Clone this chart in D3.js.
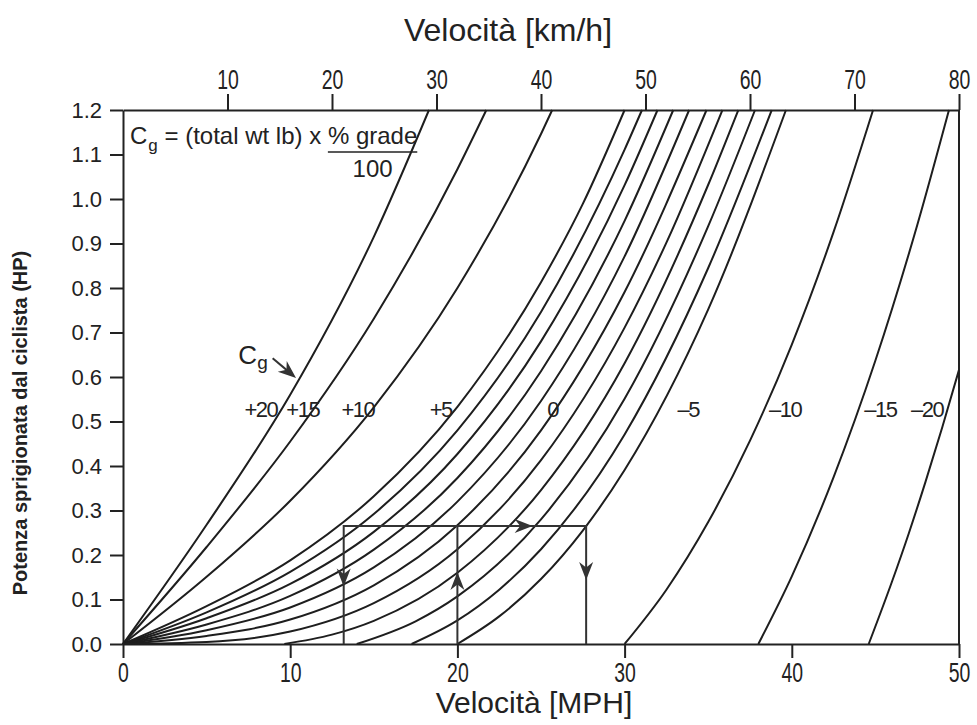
<!DOCTYPE html>
<html lang="it">
<head>
<meta charset="UTF-8">
<script src="https://d3js.org/d3.v7.min.js"></script>
<style>
  body { margin: 0; background: #fff; }
  svg { display: block; }
  text { fill: #222; font-family: "Liberation Sans", Arial, sans-serif; }
  .axis path, .axis line { stroke: #222; stroke-width: 2; }
  .curve { fill: none; stroke: #1e1e1e; stroke-width: 2; }
  .guide { fill: none; stroke: #333; stroke-width: 2; }
</style>
</head>
<body>
<svg id="chart" width="977" height="725"></svg>
<script>
// curve names (Cg, lb)
const cgNames = ["+20", "+15", "+10", "+5", "+4", "+3", "+2", "+1", "0",
                 "-1", "-2", "-3", "-4", "-5", "-10", "-15", "-20"];

// points [velocità MPH, potenza HP], one list per curve
const curves = [
  [[0, 0], [5, 0.268], [10, 0.560], [15, 0.915], [18.3, 1.2]],
  [[0, 0], [5, 0.218], [10, 0.455], [15, 0.731], [20, 1.067], [21.73, 1.2]],
  [[0, 0], [5, 0.151], [10, 0.322], [15, 0.532], [20, 0.800], [25, 1.146], [25.67, 1.2]],
  [[0, 0], [5, 0.085], [10, 0.188], [15, 0.332], [20, 0.533], [25, 0.813], [27.5, 0.989], [30.0, 1.2]],
  [[0, 0], [5, 0.071], [10, 0.162], [15, 0.292], [20, 0.480], [25, 0.746], [30, 1.111], [31.04, 1.2]],
  [[0, 0], [5, 0.058], [10, 0.135], [15, 0.252], [20, 0.427], [25, 0.680], [30, 1.031], [31.97, 1.2]],
  [[0, 0], [5, 0.044], [10, 0.108], [15, 0.212], [20, 0.373], [25, 0.613], [30, 0.951], [32.91, 1.2]],
  [[0, 0], [5, 0.031], [10, 0.082], [15, 0.172], [20, 0.320], [25, 0.546], [30, 0.871], [33.86, 1.2]],
  [[0, 0], [5, 0.018], [10, 0.055], [15, 0.132], [20, 0.267], [25, 0.480], [30, 0.791], [34.9, 1.2]],
  [[0, 0], [5, 0.0045], [10, 0.028], [15, 0.092], [20, 0.213], [25, 0.413], [30, 0.711], [32.5, 0.902], [35.85, 1.2]],
  [[9.65, 0], [12.5, 0.021], [15, 0.052], [20, 0.160], [25, 0.346], [30, 0.631], [35, 1.032], [36.8, 1.2]],
  [[13.98, 0], [17.5, 0.051], [20, 0.107], [25, 0.280], [30, 0.551], [35, 0.939], [37.8, 1.2]],
  [[17.26, 0], [20, 0.053], [22.5, 0.122], [25, 0.213], [30, 0.471], [35, 0.845], [38.8, 1.2]],
  [[20.0, 0], [22.5, 0.062], [25, 0.146], [27.5, 0.255], [30, 0.391], [35, 0.752], [39.65, 1.2]],
  [[30.0, 0], [32.5, 0.122], [35, 0.274], [37.5, 0.457], [40, 0.673], [42.5, 0.926], [44.86, 1.2]],
  [[38.0, 0], [40, 0.152], [42.5, 0.375], [45, 0.637], [47.5, 0.941], [49.4, 1.2]],
  [[44.6, 0], [46, 0.141], [47, 0.249], [48, 0.365], [49, 0.487], [50, 0.616]]
];

const hpTicks = [0, 0.1, 0.2, 0.3, 0.4, 0.5, 0.6, 0.7, 0.8, 0.9, 1.0, 1.1, 1.2];
const mphTicks = [0, 10, 20, 30, 40, 50];
const kmhTicks = [10, 20, 30, 40, 50, 60, 70, 80];

// labels written on the curves
const curveLabels = ["+20", "+15", "+10", "+5", "0", "\u20135", "\u201310", "\u201315", "\u201320"];
const labelSpeeds = [8.25, 10.75, 14.05, 19.0, 25.7, 33.8, 39.6, 45.3, 48.1];
const labelPower = 0.51;

// worked example: 0.265 HP, from 20 MPH on the flat
const exampleSpeeds = [13.2, 20, 27.7];
const examplePower = 0.265;

const margin = {top: 110, right: 18, bottom: 81, left: 123};
const width = 977 - margin.left - margin.right;
const height = 725 - margin.top - margin.bottom;

const svg = d3.select("#chart");
const g = svg.append("g").attr("transform", `translate(${margin.left},${margin.top})`);

const x = d3.scaleLinear().domain([0, 50]).range([0, width]);
const y = d3.scaleLinear().domain([0, 1.2]).range([height, 0]);
const xTop = d3.scaleLinear().domain([0, 80]).range([0, width]);

// axes
g.append("g").attr("class", "axis")
  .call(d3.axisLeft(y).tickValues(hpTicks).tickFormat(d3.format(".1f"))
    .tickSize(13).tickPadding(8).tickSizeOuter(0))
  .selectAll("text").style("font-size", "22px");

g.append("g").attr("class", "axis")
  .attr("transform", `translate(0,${height})`)
  .call(d3.axisBottom(x).tickValues(mphTicks).tickSize(14).tickPadding(5).tickSizeOuter(0))
  .selectAll("text").style("font-size", "27px").attr("transform", "scale(0.72,1)");

g.append("g").attr("class", "axis")
  .call(d3.axisTop(xTop).tickValues(kmhTicks).tickSize(16).tickPadding(5).tickSizeOuter(0))
  .selectAll("text").style("font-size", "27px").attr("transform", "scale(0.72,1)");

g.append("line").attr("class", "axis")
  .attr("x1", width).attr("x2", width).attr("y1", 0).attr("y2", height)
  .attr("stroke", "#222").attr("stroke-width", 2);

g.selectAll(".domain").attr("stroke-width", 2);

// titles
svg.append("text")
  .attr("x", 508).attr("y", 41)
  .attr("text-anchor", "middle")
  .style("font-size", "32px")
  .text("Velocità [km/h]");

svg.append("text")
  .attr("x", 534).attr("y", 713)
  .attr("text-anchor", "middle")
  .style("font-size", "30px")
  .text("Velocità [MPH]");

svg.append("text")
  .attr("transform", "translate(27,423) rotate(-90)")
  .attr("text-anchor", "middle")
  .style("font-size", "20px")
  .style("font-weight", "bold")
  .text("Potenza sprigionata dal ciclista (HP)");

// curves
const line = d3.line()
  .x(d => x(d[0]))
  .y(d => y(d[1]))
  .curve(d3.curveMonotoneX);

g.selectAll(".curve")
  .data(curves)
  .enter().append("path")
  .attr("class", "curve")
  .attr("data-cg", (d, i) => cgNames[i])
  .attr("d", line);

// curve labels
g.selectAll(".clabel")
  .data(curveLabels)
  .enter().append("text")
  .attr("class", "clabel")
  .attr("x", (d, i) => x(labelSpeeds[i]))
  .attr("y", y(labelPower))
  .attr("text-anchor", "middle")
  .style("font-size", "22px")
  .style("letter-spacing", "-1.5px")
  .text(d => d);

// example path
const [vLow, vFlat, vHigh] = exampleSpeeds;
const guide = d3.line().x(d => x(d[0])).y(d => y(d[1]));
g.append("path").attr("class", "guide")
  .attr("d", guide([[vLow, 0], [vLow, examplePower], [vHigh, examplePower], [vHigh, 0]]));
g.append("path").attr("class", "guide")
  .attr("d", guide([[vFlat, 0], [vFlat, examplePower]]));

function arrowHead(px, py, angle) {
  g.append("path")
    .attr("d", "M0,0L-18,-7L-12.5,0L-18,7Z")
    .attr("fill", "#333")
    .attr("transform", `translate(${px},${py}) rotate(${angle})`);
}
arrowHead(x(vLow), y(0.129), 90);
arrowHead(x(vFlat), y(0.162), -90);
arrowHead(x(24.5), y(examplePower), 0);
arrowHead(x(vHigh), y(0.144), 90);

// Cg pointer
g.append("text").attr("x", x(6.9)).attr("y", y(0.63))
  .style("font-size", "26px").text("C")
  .append("tspan").attr("dy", 5).style("font-size", "19px").text("g");
const p0 = [x(8.95), y(0.642)], p1 = [x(10.35), y(0.598)];
g.append("line")
  .attr("x1", p0[0]).attr("y1", p0[1]).attr("x2", p1[0] - 6).attr("y2", p1[1] - 5)
  .attr("stroke", "#333").attr("stroke-width", 2);
arrowHead(p1[0], p1[1], Math.atan2(p1[1] - p0[1], p1[0] - p0[0]) * 180 / Math.PI);

// formula in the corner
const fx = 130, fy = 144;
const f1 = svg.append("text").attr("x", fx).attr("y", fy).style("font-size", "24px").text("C");
let cx = fx + f1.node().getComputedTextLength();
const f2 = svg.append("text").attr("x", cx + 1).attr("y", fy + 7).style("font-size", "17px").text("g");
cx += 1 + f2.node().getComputedTextLength();
const f3 = svg.append("text").attr("x", cx).attr("y", fy).style("font-size", "24px")
  .style("white-space", "pre").text(" = (total wt lb) x ");
cx += f3.node().getComputedTextLength();
const f4 = svg.append("text").attr("x", cx).attr("y", fy).style("font-size", "24px").text("% grade");
const w4 = f4.node().getComputedTextLength();
svg.append("line")
  .attr("x1", cx).attr("x2", cx + w4).attr("y1", fy + 8).attr("y2", fy + 8)
  .attr("stroke", "#222").attr("stroke-width", 1.5);
svg.append("text").attr("x", cx + w4 / 2).attr("y", fy + 33)
  .attr("text-anchor", "middle").style("font-size", "24px").text("100");
</script>
</body>
</html>
